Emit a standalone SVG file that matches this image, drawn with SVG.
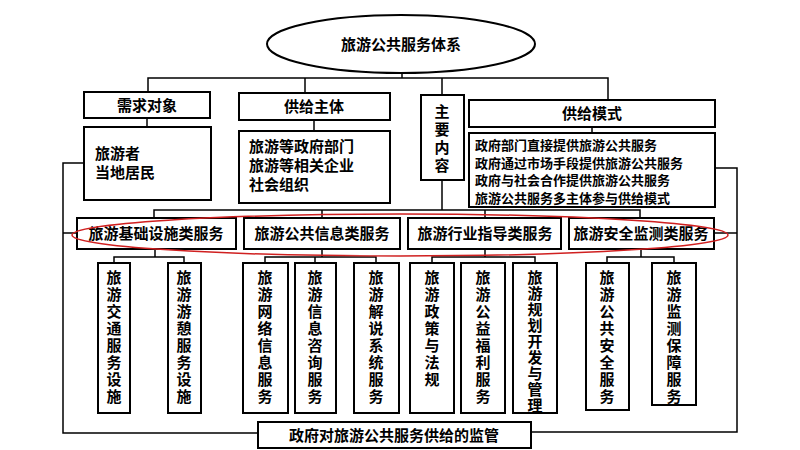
<svg xmlns="http://www.w3.org/2000/svg" width="800" height="450" viewBox="0 0 800 450">
<style>
rect{fill:#fff;stroke:#000;stroke-width:2}
.c line,.c polyline{stroke:#000;stroke-width:1.5;fill:none}
text{font-family:"Noto Sans CJK SC",sans-serif;font-size:15px;font-weight:bold;fill:#000}
.m{text-anchor:middle}
.v{writing-mode:vertical-rl;font-size:15px;letter-spacing:2px}
</style>
<rect width="800" height="450" style="stroke:none"/>
<g class="c">
<line x1="402" y1="73" x2="402" y2="78"/>
<polyline points="148,92 148,78 608,78 608,100"/>
<line x1="305" y1="78" x2="305" y2="93"/>
<line x1="442" y1="78" x2="442" y2="95"/>
<line x1="147" y1="118" x2="147" y2="127"/>
<line x1="314" y1="120" x2="314" y2="131"/>
<line x1="592" y1="127" x2="592" y2="133"/>
<line x1="442" y1="180" x2="442" y2="210"/>
<polyline points="154,218 154,210 640,210 640,218"/>
<line x1="322" y1="210" x2="322" y2="218"/>
<line x1="485" y1="210" x2="485" y2="218"/>
<polyline points="84,163 63,163 63,433 258,433"/>
<line x1="63" y1="233" x2="77" y2="233"/>
<polyline points="715,168 737,168 737,432 531,432"/>
<line x1="714" y1="233" x2="737" y2="233"/>
<line x1="155" y1="249" x2="155" y2="257"/>
<polyline points="114,263 114,257 184,257 184,263"/>
<line x1="322" y1="249" x2="322" y2="257"/>
<polyline points="265,263 265,257 376,257 376,263"/>
<line x1="315" y1="257" x2="315" y2="263"/>
<line x1="485" y1="249" x2="485" y2="257"/>
<polyline points="432,263 432,257 535,257 535,263"/>
<line x1="641" y1="249" x2="641" y2="257"/>
<polyline points="607,263 607,257 674,257 674,263"/>
</g>
<g id="root"><ellipse cx="401" cy="44" rx="134" ry="29" fill="#fff" stroke="#000" stroke-width="2"/><text class="m" x="401" y="50">旅游公共服务体系</text></g>
<g id="n1"><rect x="84" y="92" width="126" height="26"/><text class="m" x="147" y="111">需求对象</text></g>
<g id="n2"><rect x="239" y="93" width="151" height="27"/><text class="m" x="314" y="112">供给主体</text></g>
<g id="n3"><rect x="421" y="95" width="43" height="85"/><text class="v" x="442" y="104" style="letter-spacing:3px">主要内容</text></g>
<g id="n4"><rect x="469" y="100" width="246" height="27"/><text class="m" x="592" y="119">供给模式</text></g>
<g id="n1c"><rect x="84" y="127" width="127" height="73"/><text x="95" y="159">旅游者<tspan x="95" dy="19">当地居民</tspan></text></g>
<g id="n2c"><rect x="239" y="131" width="151" height="72"/><text x="249" y="152">旅游等政府部门<tspan x="249" dy="19">旅游等相关企业</tspan><tspan x="249" dy="19">社会组织</tspan></text></g>
<g id="n4c"><rect x="469" y="133" width="246" height="74"/><text x="475" y="150" style="font-size:13px">政府部门直接提供旅游公共服务<tspan x="475" dy="17.5">政府通过市场手段提供旅游公共服务</tspan><tspan x="475" dy="17.5">政府与社会合作提供旅游公共服务</tspan><tspan x="475" dy="17.5">旅游公共服务多主体参与供给模式</tspan></text></g>
<g id="k1"><rect x="77" y="218" width="159" height="31"/><text class="m" x="156" y="239">旅游基础设施类服务</text></g>
<g id="k2"><rect x="244" y="218" width="156" height="31"/><text class="m" x="322" y="239">旅游公共信息类服务</text></g>
<g id="k3"><rect x="408" y="218" width="153" height="31"/><text class="m" x="485" y="239">旅游行业指导类服务</text></g>
<g id="k4"><rect x="569" y="218" width="145" height="31"/><text class="m" x="641" y="239">旅游安全监测类服务</text></g>
<ellipse cx="400" cy="235" rx="328" ry="21" fill="none" stroke="#d02020" stroke-width="1.5"/>
<g id="s1"><rect x="98" y="263" width="32" height="150"/><text class="v" x="114" y="270">旅游交通服务设施</text></g>
<g id="s2"><rect x="168" y="263" width="33" height="150"/><text class="v" x="184" y="270">旅游游憩服务设施</text></g>
<g id="s3"><rect x="243" y="263" width="45" height="150"/><text class="v" x="265" y="270">旅游网络信息服务</text></g>
<g id="s4"><rect x="295" y="263" width="41" height="150"/><text class="v" x="315" y="270">旅游信息咨询服务</text></g>
<g id="s5"><rect x="354" y="263" width="45" height="150"/><text class="v" x="376" y="270">旅游解说系统服务</text></g>
<g id="s6"><rect x="410" y="263" width="44" height="150"/><text class="v" x="432" y="270">旅游政策与法规</text></g>
<g id="s7"><rect x="461" y="263" width="44" height="150"/><text class="v" x="483" y="270">旅游公益福利服务</text></g>
<g id="s8"><rect x="513" y="263" width="44" height="150"/><text class="v" x="535" y="270" style="letter-spacing:1px">旅游规划开发与管理</text></g>
<g id="s9"><rect x="586" y="263" width="43" height="147"/><text class="v" x="607" y="270">旅游公共安全服务</text></g>
<g id="s10"><rect x="652" y="263" width="44" height="142"/><text class="v" x="674" y="270">旅游监测保障服务</text></g>
<g id="bottom"><rect x="258" y="422" width="273" height="26"/><text class="m" x="394" y="441">政府对旅游公共服务供给的监管</text></g>
</svg>
